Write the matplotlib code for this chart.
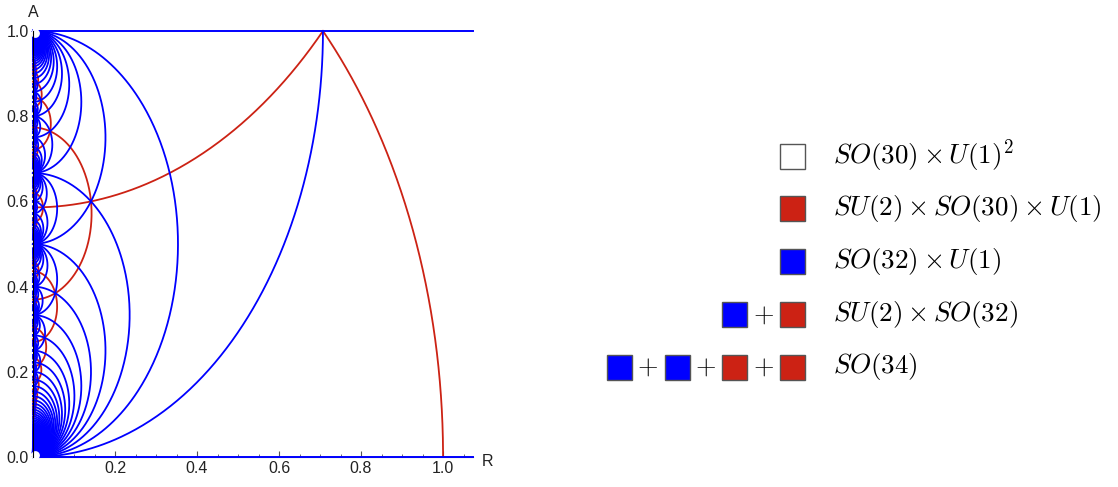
import numpy as np
import matplotlib.pyplot as plt
from matplotlib.patches import Rectangle

plt.rcParams['mathtext.fontset'] = 'cm'
plt.rcParams['font.family'] = ['Liberation Sans', 'DejaVu Sans']

# Enhancement curves of the 9d heterotic string in the (R, A) plane.
# A state with winding w, momentum n and SO(32) lattice component p along
# the Wilson line direction is massless where
#     R^2 = (n - p*A)/w - A^2/2
# blue: SO(30) -> SO(32) (|q|^2 = 1, p odd), red: extra SU(2) (q = 0, p even)
W_MAX = 200
horizontal_A = [0.0, 1.0]          # w = 0 states, A integer

legend_labels = [r'$SO(30)\times U(1)^2$',
                 r'$SU(2)\times SO(30)\times U(1)$',
                 r'$SO(32)\times U(1)$',
                 r'$SU(2)\times SO(32)$',
                 r'$SO(34)$']
legend_boxes = [['white'], ['red'], ['blue'], ['blue', 'red'],
                ['blue', 'blue', 'red', 'red']]

colors = {'blue': '#0000ff', 'red': '#cc2214', 'white': 'white'}


def arcs(kind):
    """Endpoints (A_left, A_right) of every ellipse crossing 0 <= A <= 1."""
    out = []
    for w in range(1, W_MAX + 1):
        m = 0
        while True:
            if kind == 'blue':
                p = 2 * m + 1                  # p = -(2m+1)
                num = 2 * m * (m + 1)          # -n*w
                left, right = (p - 1) / w, (p + 1) / w
            else:
                p = 2 * m                      # p = -2m
                num = 2 * m * m - 1            # -n*w
                left, right = (p - np.sqrt(2)) / w, (p + np.sqrt(2)) / w
            if left >= 1:
                break
            if num % w == 0 and right > 0:
                out.append((left, right))
            m += 1
    return out


def ellipse(left, right):
    c = (left + right) / 2
    h = (right - left) / 2
    t0 = np.arccos(min(1.0, (1 - c) / h))
    t1 = np.arccos(max(-1.0, -c / h))
    t = np.linspace(t0, t1, 300)
    return h * np.sin(t) / np.sqrt(2), c + h * np.cos(t)


fig = plt.figure(figsize=(11.18, 4.87), dpi=100)
ax = fig.add_axes([33 / 1118, 30 / 487, 440 / 1118, 426 / 487])

for left, right in arcs('red'):
    R, A = ellipse(left, right)
    ax.plot(R, A, color=colors['red'], lw=1.3, clip_on=False)
for left, right in arcs('blue'):
    R, A = ellipse(left, right)
    ax.plot(R, A, color=colors['blue'], lw=1.3, clip_on=False)
for a in horizontal_A:
    ax.axhline(a, color=colors['blue'], lw=1.4, clip_on=False, zorder=3)

# white gaps at the two accumulation points
ax.scatter([0.004, 0.004], [0.004, 0.996], s=28, color='white', zorder=6,
           clip_on=False)

ax.set_xlim(0, 1.073)
ax.set_ylim(0, 1.0)
ax.set_xticks([0.2, 0.4, 0.6, 0.8, 1.0])
ax.set_xticks(np.arange(0.05, 1.07, 0.05), minor=True)
ax.set_yticks([0.0, 0.2, 0.4, 0.6, 0.8, 1.0])
ax.set_yticks(np.arange(0.05, 1.0, 0.05), minor=True)
ax.xaxis.set_major_formatter(lambda v, pos: f'{v:.1f}')
ax.yaxis.set_major_formatter(lambda v, pos: f'{v:.1f}')
ax.tick_params(which='both', direction='in', color='#555555',
               labelsize=11.5, labelcolor='#222222', pad=3)
ax.tick_params(which='major', length=4, width=0.8)
ax.tick_params(which='minor', length=2.5, width=0.6)
for s in ['top', 'right']:
    ax.spines[s].set_visible(False)
ax.spines['left'].set_zorder(7)
ax.spines['bottom'].set_color('#555555')
ax.set_facecolor('none')

ax.annotate('A', xy=(0, 1), xycoords='axes fraction', xytext=(0, 8),
            textcoords='offset points', ha='center', va='bottom',
            fontsize=11.5, color='#222222')
ax.annotate('R', xy=(1, 0), xycoords='axes fraction', xytext=(6, -3),
            textcoords='offset points', ha='left', va='center',
            fontsize=11.5, color='#222222')

# legend drawn in figure pixel coordinates
lg = fig.add_axes([0, 0, 1, 1])
lg.set_xlim(0, 1118)
lg.set_ylim(487, 0)
lg.axis('off')
y0, dy = 156, 52.75
for i, (label, boxes) in enumerate(zip(legend_labels, legend_boxes)):
    y = y0 + i * dy
    x_right = 805
    for k, c in enumerate(reversed(boxes)):
        x = x_right - k * 57.7
        lg.add_patch(Rectangle((x - 25, y - 12.5), 25, 25, facecolor=colors[c],
                               edgecolor='#555555', lw=1))
        if k > 0:
            lg.text(x + 16, y, r'$+$', fontsize=19, ha='center', va='center')
    lg.text(833, y, label, fontsize=19.5, ha='left', va='center')

fig.savefig('out.png', dpi=100)
